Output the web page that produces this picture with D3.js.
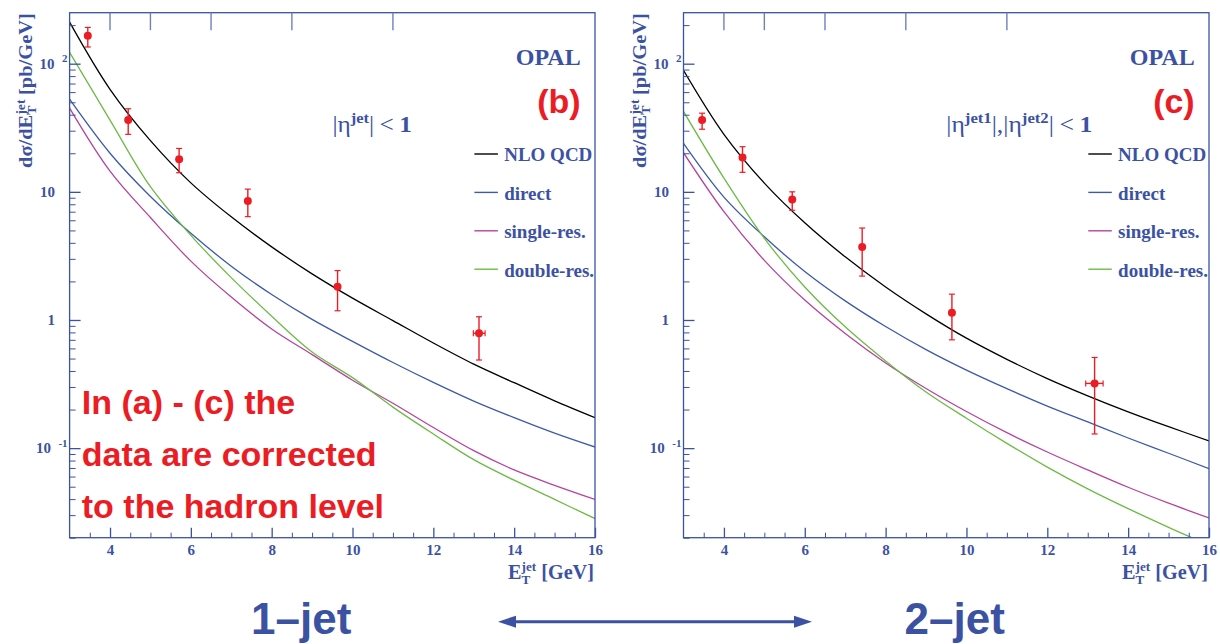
<!DOCTYPE html>
<html lang="en">
<head>
<meta charset="UTF-8">
<title>OPAL inclusive jet cross sections</title>
<style>
  body { margin: 0; background: #fff; }
  svg { display: block; }
</style>
</head>
<body>
<svg id="chart" width="1220" height="644"></svg>
<script src="https://d3js.org/d3.v7.min.js"></script>
<script>
const etGrid = [3, 4, 5, 6, 7, 8, 9, 10, 11, 12, 13, 14, 15, 16];

// (b) 1-jet, |eta| < 1   (pb/GeV)
const nlo1    = [211, 63.1, 25.1, 11.75, 6.38, 3.72, 2.29, 1.48, 0.989, 0.661, 0.452, 0.324, 0.234, 0.173];
const direct1 = [52.8, 20.0, 9.2, 4.75, 2.63, 1.58, 1.01, 0.681, 0.466, 0.326, 0.233, 0.173, 0.131, 0.102];
const single1 = [45.0, 14.5, 6.3, 2.88, 1.51, 0.851, 0.537, 0.339, 0.224, 0.145, 0.0955, 0.0676, 0.0513, 0.0398];
const double1 = [122.7, 36.3, 10.96, 4.57, 2.14, 1.07, 0.562, 0.355, 0.209, 0.129, 0.0813, 0.0562, 0.0398, 0.0282];
// [E_T, value, low, high, E_T low, E_T high]
const points1 = [
  [3.45, 165, 135, 192, 3.45, 3.45],
  [4.45, 36.3, 28.1, 44.5, 4.45, 4.45],
  [5.71, 18.0, 14.1, 21.8, 5.71, 5.71],
  [7.41, 8.47, 6.4, 10.5, 7.41, 7.41],
  [9.63, 1.82, 1.18, 2.43, 9.63, 9.63],
  [13.13, 0.787, 0.487, 1.06, 12.99, 13.28]
];

// (c) 2-jet, |eta1|,|eta2| < 1   (pb/GeV)
const nlo2    = [88.7, 28.1, 11.7, 5.73, 3.11, 1.81, 1.117, 0.721, 0.493, 0.349, 0.256, 0.192, 0.147, 0.114];
const direct2 = [23.9, 9.1, 4.46, 2.39, 1.41, 0.889, 0.587, 0.406, 0.291, 0.213, 0.160, 0.120, 0.0912, 0.0692];
const single2 = [20.2, 7.0, 2.92, 1.43, 0.785, 0.462, 0.292, 0.193, 0.132, 0.0933, 0.0676, 0.0495, 0.0372, 0.0285];
const double2 = [42.4, 12.8, 4.34, 1.81, 0.885, 0.479, 0.274, 0.171, 0.109, 0.0711, 0.0481, 0.0337, 0.0241, 0.0175];
const points2 = [
  [3.46, 36.4, 30.8, 41.1, 3.46, 3.46],
  [4.46, 18.5, 14.2, 22.5, 4.46, 4.46],
  [5.69, 8.7, 7.18, 10.0, 5.69, 5.69],
  [7.42, 3.71, 2.2, 5.22, 7.42, 7.42],
  [9.64, 1.14, 0.70, 1.59, 9.64, 9.64],
  [13.17, 0.32, 0.129, 0.51, 12.95, 13.38]
];

// bin edges marked on the top axis
const binEdges = [4, 5, 6.5, 8.5, 11];
const xLabels = [4, 6, 8, 10, 12, 14, 16];
const yMajor = [0.1, 1, 10, 100];
const legendNames = ['NLO QCD', 'direct', 'single-res.', 'double-res.'];
const curveColors = ['#000000', '#3d5aa8', '#b5449e', '#6dbb47'];
const noteLines = ['In (a) - (c) the', 'data are corrected', 'to the hadron level'];

const blue = '#3b52a3';
const red = '#ec1c24';
const serif = '"Liberation Serif", "Times New Roman", serif';
const sans = '"Liberation Sans", Arial, sans-serif';

const svg = d3.select('#chart');
svg.append('rect').attr('width', 1220).attr('height', 644).attr('fill', '#fff');

const top0 = 12.7, bot0 = 537.7;

// lays out text pieces one after another (with super/subscripts), optional stretch to width
function rich(parent, parts, opt) {
  const g = parent.append('g');
  const inner = g.append('g');
  let cx = 0, prevStart = 0;
  parts.forEach(p => {
    const start = p.back ? prevStart : cx + (p.gap || 0);
    const t = inner.append('text')
      .attr('x', start).attr('y', p.dy || 0)
      .attr('font-family', p.f || serif)
      .attr('font-size', p.s)
      .attr('font-weight', p.w || 'bold')
      .attr('fill', opt.fill || blue)
      .text(p.t);
    const w = t.node().getComputedTextLength();
    prevStart = start;
    cx = Math.max(cx, start + w);
  });
  const sx = opt.fit ? opt.fit / cx : 1;
  const width = cx * sx;
  const dx = opt.anchor === 'end' ? -width : opt.anchor === 'middle' ? -width / 2 : 0;
  inner.attr('transform', `scale(${sx},1)`);
  g.attr('transform', `translate(${opt.x},${opt.y}) rotate(${opt.rot || 0}) translate(${dx},0)`);
  return g;
}

const panels = [
  { id: 'b', x0: 69.6, x1: 595, curves: [nlo1, direct1, single1, double1], points: points1, tag: '(b)',
    eta: [
      { t: '|', s: 23, w: 'normal' }, { t: 'η', s: 23, w: 'normal' },
      { t: 'jet', s: 15, dy: -9 }, { t: '|', s: 23, w: 'normal' },
      { t: '<', s: 23, w: 'normal', gap: 5 }, { t: '1', s: 23, gap: 5 }
    ], etaW: 79.6, jet: '1–jet', jetX: 251 },
  { id: 'c', x0: 683.5, x1: 1209, curves: [nlo2, direct2, single2, double2], points: points2, tag: '(c)',
    eta: [
      { t: '|', s: 23, w: 'normal' }, { t: 'η', s: 23, w: 'normal' },
      { t: 'jet1', s: 15, dy: -9 }, { t: '|,', s: 23, w: 'normal' }, { t: '|', s: 23, w: 'normal' },
      { t: 'η', s: 23, w: 'normal' }, { t: 'jet2', s: 15, dy: -9 }, { t: '|', s: 23, w: 'normal' },
      { t: '<', s: 23, w: 'normal', gap: 5 }, { t: '1', s: 23, gap: 5 }
    ], etaW: 146, jet: '2–jet', jetX: 904.5 }
];

panels.forEach(p => {
  const x = d3.scaleLinear().domain([3, 16]).range([p.x0, p.x1]);
  const y = d3.scaleLog().domain([0.02, 250]).range([bot0, top0]);
  const g = svg.append('g');

  const cid = 'clip-' + p.id;
  svg.append('clipPath').attr('id', cid).append('rect')
    .attr('x', p.x0).attr('y', top0).attr('width', p.x1 - p.x0).attr('height', bot0 - top0);

  // theory curves
  const line = d3.line()
    .x((d, i) => x(etGrid[i]))
    .y(d => y(d))
    .curve(d3.curveCatmullRom.alpha(0.5));
  p.curves.forEach((c, i) => {
    g.append('path')
      .attr('d', line(c))
      .attr('clip-path', `url(#${cid})`)
      .attr('fill', 'none')
      .attr('stroke', curveColors[i])
      .attr('stroke-width', 1.3);
  });

  // frame
  g.append('rect')
    .attr('x', p.x0).attr('y', top0)
    .attr('width', p.x1 - p.x0).attr('height', bot0 - top0)
    .attr('fill', 'none').attr('stroke', blue).attr('stroke-width', 1.3);

  // x axis: major ticks with labels, minor every 0.5
  const xMinor = d3.range(3.5, 16, 0.5).filter(v => v % 2 !== 0);
  g.append('g').attr('transform', `translate(0,${bot0})`).attr('color', blue)
    .call(d3.axisBottom(x).tickValues(xMinor).tickSizeInner(-5).tickSizeOuter(0).tickFormat(''))
    .call(a => a.select('.domain').remove());
  const xa = g.append('g').attr('transform', `translate(0,${bot0})`).attr('color', blue)
    .call(d3.axisBottom(x).tickValues(xLabels).tickSizeInner(-10).tickSizeOuter(0).tickPadding(7))
    .call(a => a.select('.domain').remove());
  xa.selectAll('line').attr('stroke-width', 1.3);
  xa.selectAll('text')
    .attr('font-family', serif).attr('font-weight', 'bold').attr('font-size', 15)
    .attr('dy', '0.71em').attr('fill', blue);

  // top: bin edges
  g.selectAll('.edge').data(binEdges).join('line')
    .attr('x1', d => x(d)).attr('x2', d => x(d))
    .attr('y1', top0).attr('y2', top0 + 17.5)
    .attr('stroke', '#6d80c0').attr('stroke-width', 1.4);

  // y axis ticks
  const yMinor = [];
  [0.01, 0.1, 1, 10, 100].forEach(d => d3.range(2, 10).forEach(k => {
    const v = d * k;
    if (v >= 0.02 && v <= 250) yMinor.push(v);
  }));
  g.append('g').attr('transform', `translate(${p.x0},0)`).attr('color', blue)
    .call(d3.axisLeft(y).tickValues(yMinor).tickSizeInner(-6).tickSizeOuter(0).tickFormat(''))
    .call(a => a.select('.domain').remove());
  const ya = g.append('g').attr('transform', `translate(${p.x0},0)`).attr('color', blue)
    .call(d3.axisLeft(y).tickValues(yMajor).tickSizeInner(-11).tickSizeOuter(0).tickPadding(14.5)
      .tickFormat(d => (d === 1 || d === 10) ? String(d) : ''))
    .call(a => a.select('.domain').remove());
  ya.selectAll('line').attr('stroke-width', 1.3);
  ya.selectAll('text')
    .attr('font-family', serif).attr('font-weight', 'bold').attr('font-size', 15)
    .attr('dy', '0.33em').attr('fill', blue);

  // power-of-ten labels
  [[100, '2'], [0.1, '-1']].forEach(([v, e]) => {
    const ty = y(v);
    const et = g.append('text')
      .attr('x', p.x0 - 2).attr('y', ty - 1.5)
      .attr('text-anchor', 'end')
      .attr('font-family', serif).attr('font-weight', 'bold').attr('font-size', 11)
      .attr('fill', blue).text(e);
    const ew = et.node().getComputedTextLength();
    g.append('text')
      .attr('x', p.x0 - 2 - ew - 7.5).attr('y', ty + 5)
      .attr('text-anchor', 'end')
      .attr('font-family', serif).attr('font-weight', 'bold').attr('font-size', 15)
      .attr('fill', blue).text('10');
  });

  // axis titles
  rich(g, [
    { t: 'dσ/dE', s: 18 },
    { t: 'jet', s: 12, dy: -7.5 },
    { t: 'T', s: 12, dy: 4, back: true },
    { t: '[pb/GeV]', s: 18, gap: 4 }
  ], { x: p.x0 - 37.5, y: 168, rot: -90, fit: 155 });

  rich(g, [
    { t: 'E', s: 20 },
    { t: 'jet', s: 13, dy: -8 },
    { t: 'T', s: 13, dy: 5, back: true },
    { t: '[GeV]', s: 20, gap: 5 }
  ], { x: p.x1 - 1, y: 579, anchor: 'end', fit: 86 });

  // data points
  const pts = g.append('g').attr('stroke', red).attr('fill', red);
  p.points.forEach(([px, pv, lo, hi, xl, xh]) => {
    const cx = x(px), cy = y(pv);
    pts.append('line').attr('x1', cx).attr('x2', cx).attr('y1', y(hi)).attr('y2', y(lo)).attr('stroke-width', 1.4);
    [hi, lo].forEach(v => pts.append('line')
      .attr('x1', cx - 3).attr('x2', cx + 3).attr('y1', y(v)).attr('y2', y(v)).attr('stroke-width', 1.2));
    if (xh > xl) {
      pts.append('line').attr('x1', x(xl)).attr('x2', x(xh)).attr('y1', cy).attr('y2', cy).attr('stroke-width', 1.4);
      [xl, xh].forEach(v => pts.append('line')
        .attr('x1', x(v)).attr('x2', x(v)).attr('y1', cy - 3).attr('y2', cy + 3).attr('stroke-width', 1.2));
    }
    pts.append('circle').attr('cx', cx).attr('cy', cy).attr('r', 4).attr('stroke', 'none');
  });

  // labels in the top right
  g.append('text')
    .attr('x', p.x1 - 14.3).attr('y', 65).attr('text-anchor', 'end')
    .attr('font-family', serif).attr('font-weight', 'bold').attr('font-size', 24)
    .attr('fill', blue).text('OPAL');
  g.append('text')
    .attr('x', p.x1 - 14.3).attr('y', 113).attr('text-anchor', 'end')
    .attr('font-family', sans).attr('font-weight', 'bold').attr('font-size', 34)
    .attr('fill', red).text(p.tag);
  rich(g, p.eta, { x: p.x0 + 262.8, y: 132, fit: p.etaW });

  // legend
  legendNames.forEach((n, i) => {
    const by = 161.3 + i * 38.4;
    g.append('line')
      .attr('x1', p.x0 + 404.8).attr('x2', p.x0 + 428.3)
      .attr('y1', by - 7.3).attr('y2', by - 7.3)
      .attr('stroke', curveColors[i]).attr('stroke-width', 1.4);
    g.append('text')
      .attr('x', p.x0 + 434.6).attr('y', by)
      .attr('font-family', serif).attr('font-weight', 'bold').attr('font-size', 19)
      .attr('fill', blue).text(n);
  });

  // big label below
  svg.append('text')
    .attr('x', p.jetX).attr('y', 634.3)
    .attr('font-family', sans).attr('font-weight', 'bold').attr('font-size', 44)
    .attr('fill', blue).text(p.jet);
});

// note on the left panel
noteLines.forEach((t, i) => {
  svg.append('text')
    .attr('x', 81.8).attr('y', 413.6 + i * 52.4)
    .attr('font-family', sans).attr('font-weight', 'bold').attr('font-size', 34)
    .attr('fill', red).text(t);
});

// double arrow between the two labels
const ay = 621.7, ax0 = 498, ax1 = 812, head = 18;
svg.append('line')
  .attr('x1', ax0 + head - 2).attr('x2', ax1 - head + 2)
  .attr('y1', ay).attr('y2', ay)
  .attr('stroke', blue).attr('stroke-width', 3);
svg.append('path')
  .attr('d', `M${ax0},${ay} L${ax0 + head},${ay - 6} L${ax0 + head},${ay + 6} Z`)
  .attr('fill', blue);
svg.append('path')
  .attr('d', `M${ax1},${ay} L${ax1 - head},${ay - 6} L${ax1 - head},${ay + 6} Z`)
  .attr('fill', blue);
</script>
</body>
</html>
